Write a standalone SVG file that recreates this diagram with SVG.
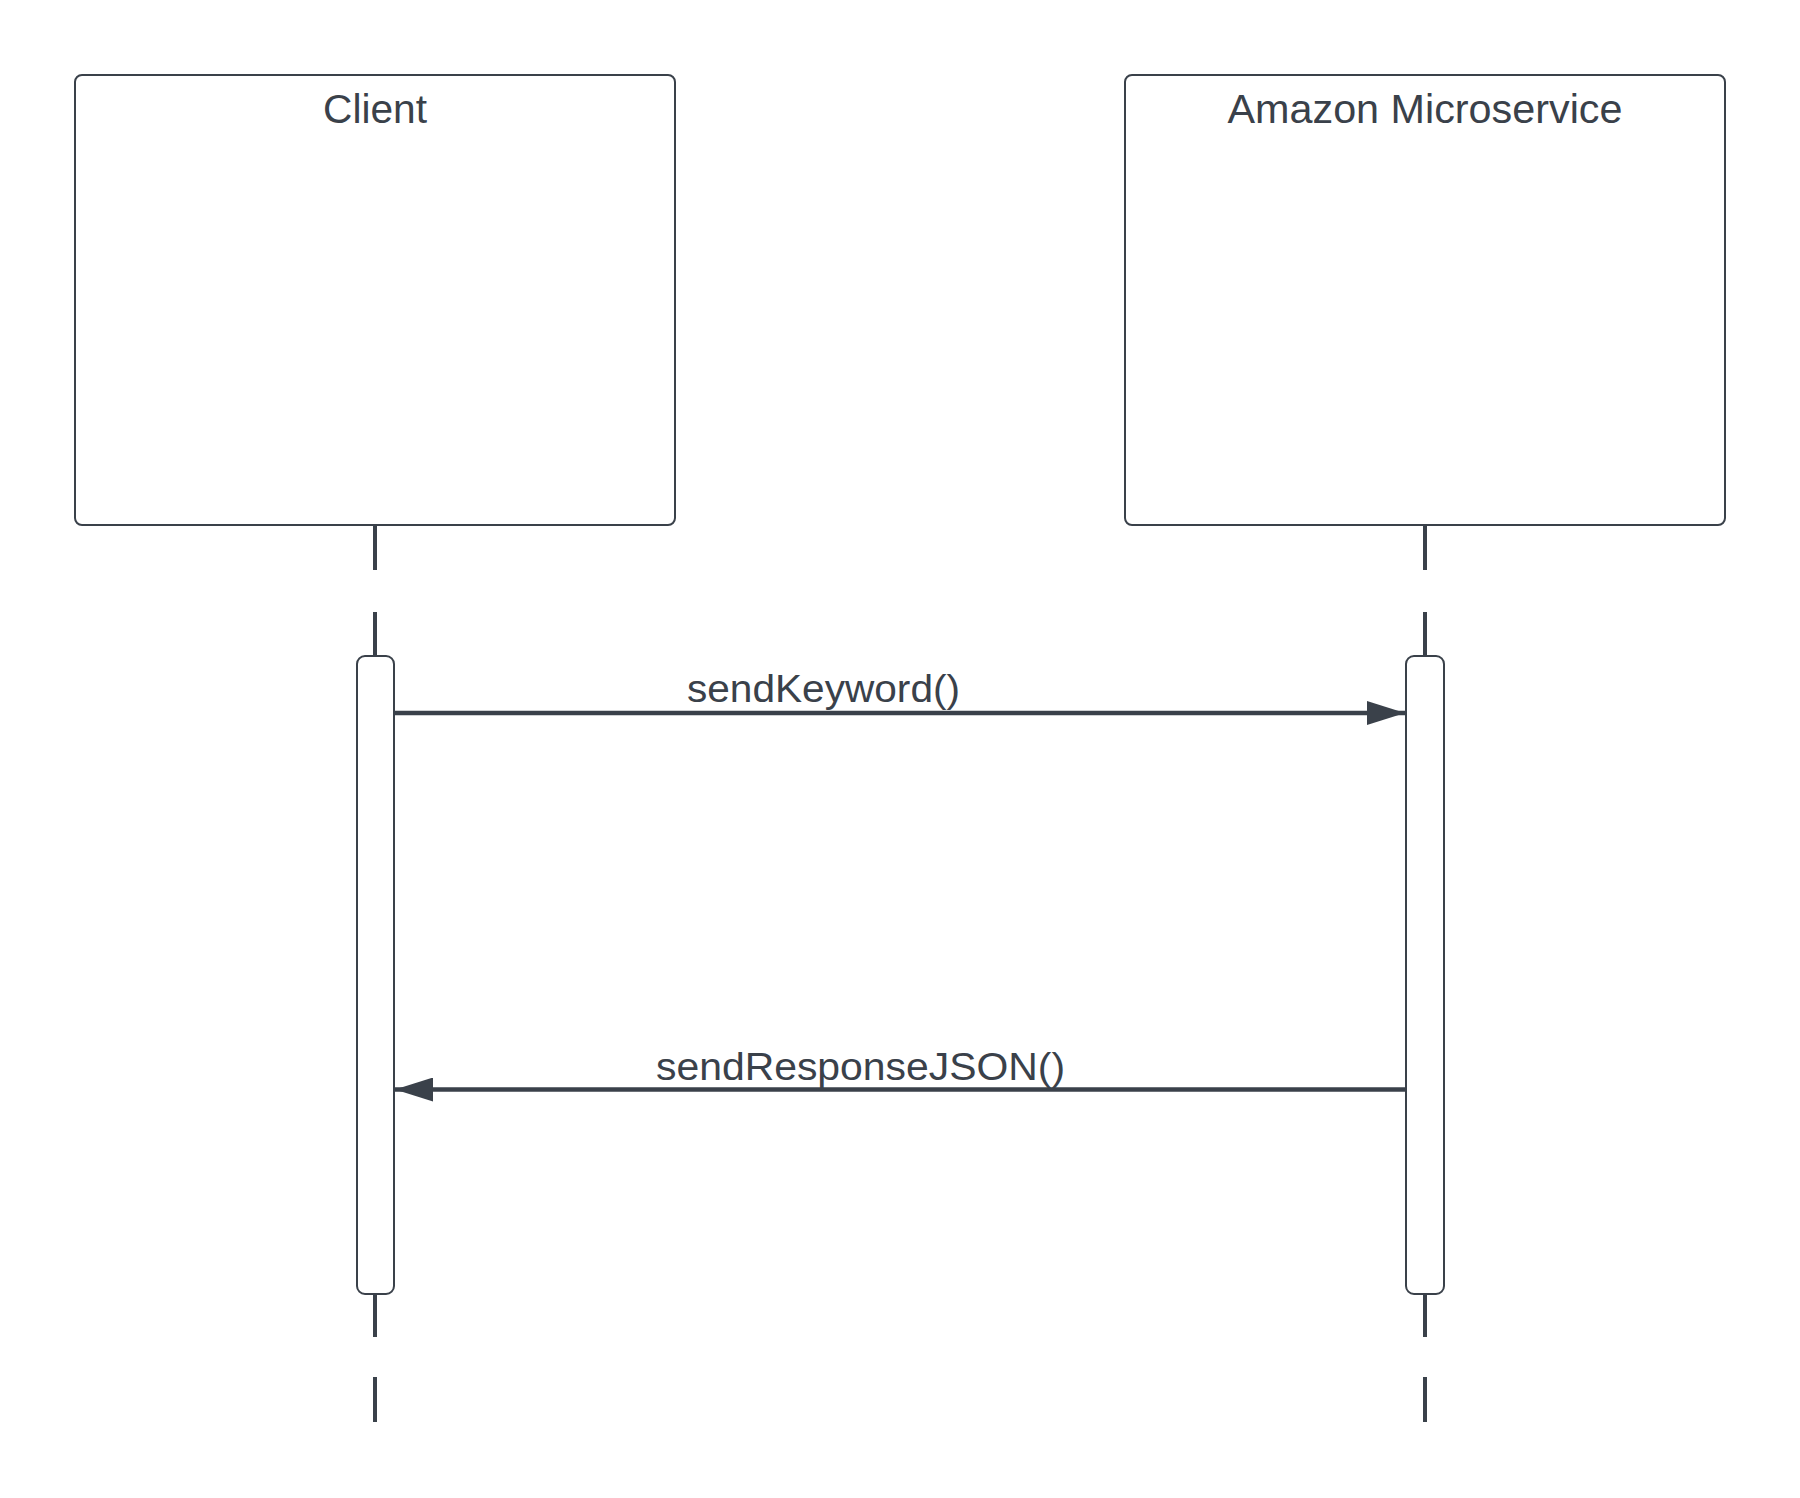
<svg xmlns="http://www.w3.org/2000/svg" width="1800" height="1498" viewBox="0 0 1800 1498">
  <defs>
    <style>
      .box { fill: #ffffff; stroke: #3a414a; stroke-width: 2; }
      .act { fill: #ffffff; stroke: #3a414a; stroke-width: 2; }
      .life { stroke: #3a414a; stroke-width: 4; fill: none; }
      .msg { stroke: #3a414a; stroke-width: 4.5; fill: none; }
      .title { font-family: "Liberation Sans", Arial, sans-serif; font-size: 40px; fill: #3a414a; text-anchor: middle; }
      .label { font-family: "Liberation Sans", Arial, sans-serif; font-size: 38px; fill: #3a414a; }
    </style>
    <marker id="arrow" viewBox="0 0 38 24" refX="38" refY="12" markerWidth="38" markerHeight="24" markerUnits="userSpaceOnUse" orient="auto">
      <path d="M0,0 L38,12 L0,24 Z" fill="#3a414a"/>
    </marker>
  </defs>
  <rect width="1800" height="1498" fill="#ffffff"/>

  <g id="lifelines">
    <path class="life" d="M375,525 V570 M375,612 V656 M375,1294 V1337 M375,1377 V1422"/>
    <path class="life" d="M1425,525 V570 M1425,612 V656 M1425,1294 V1337 M1425,1377 V1422"/>
  </g>

  <g id="node-client">
    <rect class="box" x="75" y="75" width="600" height="450" rx="7" ry="7"/>
    <text class="title" x="375" y="123" textLength="104" lengthAdjust="spacingAndGlyphs">Client</text>
  </g>

  <g id="node-amazon">
    <rect class="box" x="1125" y="75" width="600" height="450" rx="7" ry="7"/>
    <text class="title" x="1425" y="123" textLength="395" lengthAdjust="spacingAndGlyphs">Amazon Microservice</text>
  </g>

  <g id="activation-client">
    <rect class="act" x="357" y="656" width="37" height="638" rx="8" ry="8"/>
  </g>

  <g id="activation-amazon">
    <rect class="act" x="1406" y="656" width="38" height="638" rx="8" ry="8"/>
  </g>

  <g id="connectors">
    <line class="msg" x1="394" y1="713" x2="1405" y2="713" marker-end="url(#arrow)"/>
    <text class="label" x="687" y="702" textLength="273" lengthAdjust="spacingAndGlyphs">sendKeyword()</text>
    <line class="msg" x1="1405" y1="1089.5" x2="395" y2="1089.5" marker-end="url(#arrow)"/>
    <text class="label" x="656" y="1079.5" textLength="409" lengthAdjust="spacingAndGlyphs">sendResponseJSON()</text>
  </g>
</svg>
